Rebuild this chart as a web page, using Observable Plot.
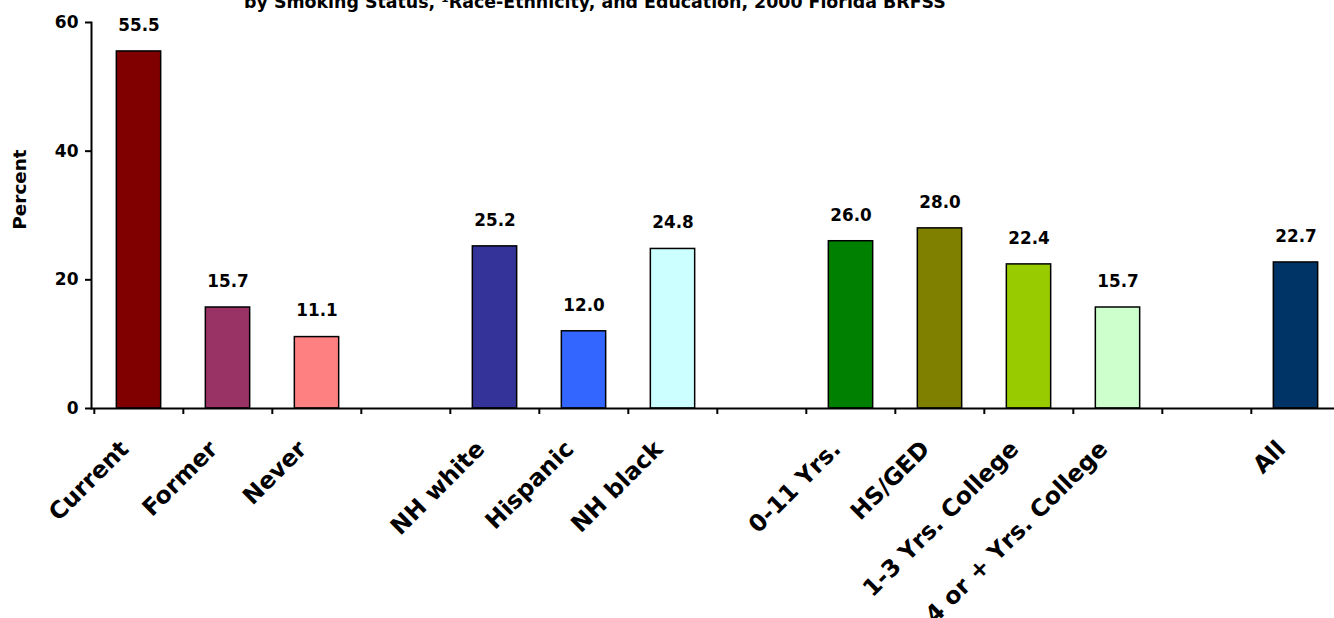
<!DOCTYPE html>
<html><head><meta charset="utf-8">
<script src="https://cdn.jsdelivr.net/npm/d3@7"></script>
<script src="https://cdn.jsdelivr.net/npm/@observablehq/plot@0.6"></script>
<style>
html,body{margin:0;padding:0;background:#fff;overflow:hidden;}
#wrap{position:relative;width:1342px;height:618px;}
#title{position:absolute;left:0;width:1190px;top:-6px;text-align:center;font-family:"DejaVu Sans",sans-serif;font-weight:bold;font-size:17.4px;line-height:16px;color:#000;white-space:nowrap;}
</style></head><body>
<div id="wrap"><div id="chart"></div><div id="title"></div></div>
<script>
const titleText = "by Smoking Status, \u00B9Race-Ethnicity, and Education, 2000 Florida BRFSS";
const categories = ["Current","Former","Never","NH white","Hispanic","NH black","0-11 Yrs.","HS/GED","1-3 Yrs. College","4 or + Yrs. College","All"];
const values = [55.5,15.7,11.1,25.2,12.0,24.8,26.0,28.0,22.4,15.7,22.7];
const colors = ["#800000","#993366","#FF8080","#333399","#3366FF","#CCFFFF","#008000","#808000","#99CC00","#CCFFCC","#003366"];
const groups = ["Smoking","Smoking","Smoking","Race","Race","Race","Education","Education","Education","Education","All"];
const yTicks = [0,20,40,60];
const yLabel = "Percent";

document.getElementById("title").textContent = titleText;

const data = categories.map((c,i)=>({category:c, value:values[i], color:colors[i], group:groups[i]}));
const slots = [];
let gap = 0;
data.forEach((d,i)=>{ if(i>0 && d.group!==data[i-1].group) slots.push(" ".repeat(++gap)); slots.push(d.category); });

const W=1342, ML=91, MR=0;
const slot = (W-ML-MR)/slots.length;
const font = "'DejaVu Sans', sans-serif";
const chart = Plot.plot({
  width: W, height: 618, marginLeft: ML, marginRight: MR, marginTop: 22, marginBottom: 210,
  style: {fontFamily: font, color: "#000", background: "#fff", overflow: "visible"},
  x: {type:"band", domain: slots, padding: 0, axis: null},
  y: {domain:[0,60], axis: null},
  color: {type:"identity"},
  marks: [
    Plot.barY(data, {x:"category", y:"value", fill:"color", stroke:"#000", strokeWidth:1.5, insetLeft: slot/4, insetRight: slot/4}),
    Plot.ruleY([0], {stroke:"#000", strokeWidth:2}),
    Plot.frame({anchor:"left", stroke:"#000", strokeWidth:2}),
    Plot.axisX({ticks: slots, tickSize: 6, tickFormat: () => "", label: null, dx: -slot/2, strokeWidth: 2}),
    Plot.axisY({ticks: yTicks, tickSize: 6, tickPadding: 7, fontSize: 17, fontWeight: "bold", label: null, strokeWidth: 2}),
    Plot.text(data, {x:"category", y:"value", text: d=>d.value.toFixed(1), dy:-26, fontSize:16.8, fontWeight:"bold"}),
    Plot.text(data, {x:"category", y:0, text:"category", rotate:-45, textAnchor:"end", lineAnchor:"bottom", dx:-9, dy:42, fontSize:23.5, fontWeight:"bold"}),
    Plot.text([yLabel], {frameAnchor:"left", text: d=>d, rotate:-90, textAnchor:"middle", lineAnchor:"middle", dx:-71, dy:-26, fontSize:18.4, fontWeight:"bold"})
  ]
});
document.getElementById("chart").appendChild(chart);
</script>
</body></html>
